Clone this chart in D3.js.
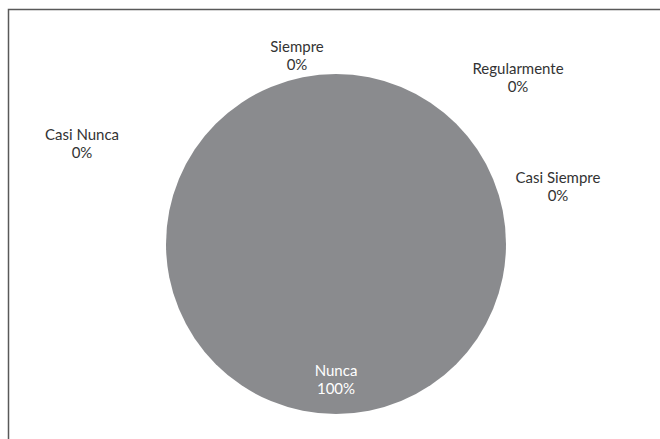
<!DOCTYPE html>
<html>
<head>
<meta charset="utf-8">
<script src="https://cdn.jsdelivr.net/npm/d3@7"></script>
<style>
  body { margin: 0; background: #fff; }
  svg { display: block; }
</style>
</head>
<body>
<div id="chart"></div>
<script>
const categories = ["Siempre", "Casi Siempre", "Regularmente", "Casi Nunca", "Nunca"];
const values = [0, 0, 0, 0, 100];
const percentLabels = ["0%", "0%", "0%", "0%", "100%"];

const width = 660;
const height = 439;
const cx = 336;
const cy = 244;
const radius = 170;

// where Excel dropped each label (centre of the two-line block)
const labelAt = {
  "Siempre": [297, 55],
  "Casi Siempre": [558, 186],
  "Regularmente": [518, 77],
  "Casi Nunca": [82, 143],
  "Nunca": [336, 379]
};

const svg = d3
  .select("#chart")
  .append("svg")
  .attr("width", width)
  .attr("height", height);

svg
  .append("rect")
  .attr("x", 8.5)
  .attr("y", 9.5)
  .attr("width", width + 20)
  .attr("height", height + 20)
  .attr("fill", "#fff")
  .attr("stroke", "#595959")
  .attr("stroke-width", 1.5);

const data = categories.map((c, i) => ({ name: c, value: values[i], pct: percentLabels[i] }));

const pie = d3.pie().sort(null).value((d) => d.value);
const arc = d3.arc().innerRadius(0).outerRadius(radius);

const g = svg.append("g").attr("transform", `translate(${cx}, ${cy})`);

g.selectAll("path")
  .data(pie(data).filter((d) => d.data.value > 0))
  .enter()
  .append("path")
  .attr("d", arc)
  .attr("fill", "#8a8b8e");

const labels = svg
  .selectAll("text.lbl")
  .data(data)
  .enter()
  .append("text")
  .attr("class", "lbl")
  .attr("text-anchor", "middle")
  .attr("font-family", "Lato, 'Open Sans', sans-serif")
  .attr("font-size", 15)
  .attr("fill", (d) => (d.value > 0 ? "#ffffff" : "#333333"))
  .attr("transform", (d) => `translate(${labelAt[d.name][0]}, ${labelAt[d.name][1]})`);

labels.append("tspan").attr("x", 0).attr("y", -3).text((d) => d.name);
labels.append("tspan").attr("x", 0).attr("y", 15).text((d) => d.pct);
</script>
</body>
</html>
